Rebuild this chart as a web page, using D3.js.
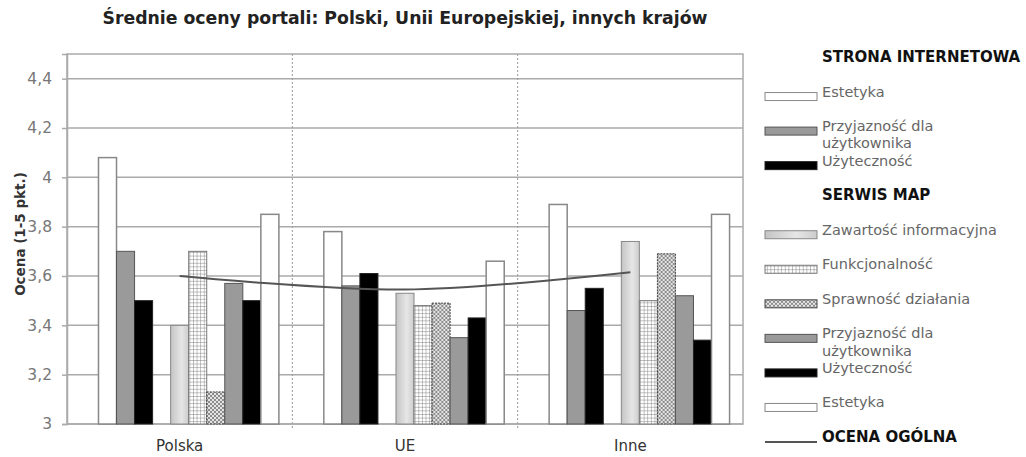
<!DOCTYPE html>
<html>
<head>
<meta charset="utf-8">
<script src="https://cdn.jsdelivr.net/npm/d3@7"></script>
<style>
  body { margin: 0; background: #fff; }
  svg { display: block; font-family: "DejaVu Sans", sans-serif; }
</style>
</head>
<body>
<div id="chart"></div>
<script>
// categories and series
var categories = ["Polska", "UE", "Inne"];
var seriesKeys = ["hStrona", "sEst", "sPrz", "sUzy", "hSerwis", "mZaw", "mFun", "mSpr", "mPrz", "mUzy", "mEst"];

var strona_estetyka     = [4.08, 3.78, 3.89];
var strona_przyjaznosc  = [3.70, 3.56, 3.46];
var strona_uzytecznosc  = [3.50, 3.61, 3.55];
var mapy_zawartosc      = [3.40, 3.53, 3.74];
var mapy_funkcjonalnosc = [3.70, 3.48, 3.50];
var mapy_sprawnosc      = [3.13, 3.49, 3.69];
var mapy_przyjaznosc    = [3.57, 3.35, 3.52];
var mapy_uzytecznosc    = [3.50, 3.43, 3.34];
var mapy_estetyka       = [3.85, 3.66, 3.85];
var ocena_ogolna        = [3.60, 3.545, 3.615];

var yTicks = [3, 3.2, 3.4, 3.6, 3.8, 4, 4.2, 4.4];

var legendItems = [
  {key: "hStrona", label: "STRONA INTERNETOWA", type: "header"},
  {key: "sEst", label: "Estetyka", type: "bar"},
  {key: "sPrz", label: "Przyjazność dla\nużytkownika", type: "bar"},
  {key: "sUzy", label: "Użyteczność", type: "bar"},
  {key: "hSerwis", label: "SERWIS MAP", type: "header"},
  {key: "mZaw", label: "Zawartość informacyjna", type: "bar"},
  {key: "mFun", label: "Funkcjonalność", type: "bar"},
  {key: "mSpr", label: "Sprawność działania", type: "bar"},
  {key: "mPrz", label: "Przyjazność dla\nużytkownika", type: "bar"},
  {key: "mUzy", label: "Użyteczność", type: "bar"},
  {key: "mEst", label: "Estetyka", type: "bar"},
  {key: "ocena", label: "OCENA OGÓLNA", type: "line"}
];

var values = {
  sEst: strona_estetyka, sPrz: strona_przyjaznosc, sUzy: strona_uzytecznosc,
  mZaw: mapy_zawartosc, mFun: mapy_funkcjonalnosc, mSpr: mapy_sprawnosc,
  mPrz: mapy_przyjaznosc, mUzy: mapy_uzytecznosc, mEst: mapy_estetyka
};

var fills = {
  sEst: "#fff", sPrz: "#9a9a9a", sUzy: "#000",
  mZaw: "url(#gradZaw)", mFun: "url(#patGrid)", mSpr: "url(#patDots)",
  mPrz: "#9a9a9a", mUzy: "#000", mEst: "#fff"
};
var strokes = {
  sEst: "#888", sPrz: "#555", sUzy: "#222",
  mZaw: "#888", mFun: "#777", mSpr: "#444",
  mPrz: "#555", mUzy: "#222", mEst: "#888"
};

var W = 1026, H = 457;
var svg = d3.select("#chart").append("svg").attr("width", W).attr("height", H);
svg.append("rect").attr("width", W).attr("height", H).attr("fill", "#fff");

var defs = svg.append("defs");
var grad = defs.append("linearGradient").attr("id", "gradZaw");
grad.append("stop").attr("offset", "0%").attr("stop-color", "#c4c4c4");
grad.append("stop").attr("offset", "60%").attr("stop-color", "#e6e6e6");
grad.append("stop").attr("offset", "100%").attr("stop-color", "#cdcdcd");

var pg = defs.append("pattern").attr("id", "patGrid").attr("patternUnits", "userSpaceOnUse")
  .attr("width", 3.6).attr("height", 3.6);
pg.append("rect").attr("width", 3.6).attr("height", 3.6).attr("fill", "#fff");
pg.append("path").attr("d", "M0,0H3.6M0,0V3.6").attr("stroke", "#777").attr("stroke-width", 0.9);

var pd = defs.append("pattern").attr("id", "patDots").attr("patternUnits", "userSpaceOnUse")
  .attr("width", 4).attr("height", 4);
pd.append("rect").attr("width", 4).attr("height", 4).attr("fill", "#e4e4e4");
pd.append("path").attr("d", "M0,0L4,4M4,0L0,4").attr("stroke", "#777").attr("stroke-width", 0.8);

// plot area
var pL = 67, pR = 743, pT = 54, pB = 424;

var x0 = d3.scaleBand().domain(categories).range([pL, pR]).padding(0);
var x1 = d3.scaleBand().domain(seriesKeys).range([0, x0.bandwidth()]).paddingInner(0).paddingOuter(0.745);
var y = d3.scaleLinear().domain([3, 4.5]).range([pB, pT]);

// gridlines
svg.append("g").selectAll("line").data(yTicks).join("line")
  .attr("x1", pL).attr("x2", pR)
  .attr("y1", function(d) { return y(d); }).attr("y2", function(d) { return y(d); })
  .attr("stroke", "#aaa").attr("stroke-width", 1.5);

// category dividers
svg.append("g").selectAll("line").data(categories.slice(1)).join("line")
  .attr("x1", function(d) { return x0(d); }).attr("x2", function(d) { return x0(d); })
  .attr("y1", pT).attr("y2", pB + 6)
  .attr("stroke", "#999").attr("stroke-width", 1).attr("stroke-dasharray", "2,2");

// frame
svg.append("rect").attr("x", pL).attr("y", pT).attr("width", pR - pL).attr("height", pB - pT)
  .attr("fill", "none").attr("stroke", "#aaa").attr("stroke-width", 1.5);

// y axis
var yAxis = svg.append("g").attr("transform", "translate(" + pL + ",0)")
  .call(d3.axisLeft(y).tickValues(yTicks).tickSize(5).tickPadding(10)
    .tickFormat(function(d) { return d3.format(".1~f")(d).replace(".", ","); }));
yAxis.select(".domain").attr("stroke", "#aaa").attr("stroke-width", 1.5);
yAxis.selectAll(".tick line").attr("stroke", "#aaa").attr("stroke-width", 1.5);
yAxis.selectAll(".tick text").attr("fill", "#777").style("font-size", "15.5px")
  .style("font-family", "DejaVu Sans");

// x axis
var xAxis = svg.append("g").attr("transform", "translate(0," + pB + ")")
  .call(d3.axisBottom(x0).tickSize(0).tickPadding(16));
xAxis.select(".domain").remove();
xAxis.selectAll(".tick text").attr("fill", "#333").style("font-size", "15px")
  .style("font-family", "DejaVu Sans");

// bars
var groups = svg.append("g").selectAll("g").data(categories).join("g")
  .attr("transform", function(d) { return "translate(" + x0(d) + ",0)"; });

groups.selectAll("rect")
  .data(function(c, i) {
    return seriesKeys.filter(function(k) { return values[k]; })
      .map(function(k) { return {key: k, value: values[k][i]}; });
  })
  .join("rect")
  .attr("x", function(d) { return x1(d.key); })
  .attr("width", x1.bandwidth())
  .attr("y", function(d) { return y(d.value); })
  .attr("height", function(d) { return y(3) - y(d.value); })
  .attr("fill", function(d) { return fills[d.key]; })
  .attr("stroke", function(d) { return strokes[d.key]; })
  .attr("stroke-width", function(d) { return d.key === "sEst" || d.key === "mEst" ? 1.5 : 1; })
  .attr("stroke-dasharray", function(d) { return d.key === "mSpr" ? "2,1" : null; });

// overall score line
var line = d3.line()
  .x(function(d, i) { return x0(categories[i]) + x0.bandwidth() / 2; })
  .y(function(d) { return y(d); })
  .curve(d3.curveCatmullRom);

svg.append("path").datum(ocena_ogolna)
  .attr("fill", "none").attr("stroke", "#555").attr("stroke-width", 2)
  .attr("d", line);

// title
svg.append("text").attr("x", 405).attr("y", 24).attr("text-anchor", "middle")
  .style("font-size", "17.3px").style("font-weight", "bold").attr("fill", "#222")
  .text("Średnie oceny portali: Polski, Unii Europejskiej, innych krajów");

// y label
svg.append("text").attr("transform", "translate(25,234) rotate(-90)").attr("text-anchor", "middle")
  .style("font-size", "13.5px").style("font-weight", "bold").attr("fill", "#333")
  .text("Ocena (1-5 pkt.)");

// legend
var ly = d3.scalePoint().domain(legendItems.map(function(d, i) { return i; })).range([62, 442]);
var leg = svg.append("g").selectAll("g").data(legendItems).join("g")
  .attr("transform", function(d, i) { return "translate(0," + ly(i) + ")"; });

leg.filter(function(d) { return d.type === "bar"; }).append("rect")
  .attr("x", 765).attr("y", -4).attr("width", 52).attr("height", 8)
  .attr("fill", function(d) { return fills[d.key]; })
  .attr("stroke", function(d) { return strokes[d.key]; })
  .attr("stroke-width", 1);

leg.filter(function(d) { return d.type === "line"; }).append("line")
  .attr("x1", 765).attr("x2", 817).attr("stroke", "#555").attr("stroke-width", 2);

leg.append("text")
  .attr("x", 822).attr("dy", "0.35em")
  .style("font-size", function(d) { return d.type === "bar" ? "14.5px" : "15px"; })
  .style("font-weight", function(d) { return d.type === "bar" ? "normal" : "bold"; })
  .attr("fill", function(d) { return d.type === "bar" ? "#666" : "#111"; })
  .selectAll("tspan")
  .data(function(d) { return d.label.split("\n"); })
  .join("tspan")
  .attr("x", 822)
  .attr("dy", function(d, i) { return i === 0 ? 0 : "1.2em"; })
  .text(function(d) { return d; });
</script>
</body>
</html>
